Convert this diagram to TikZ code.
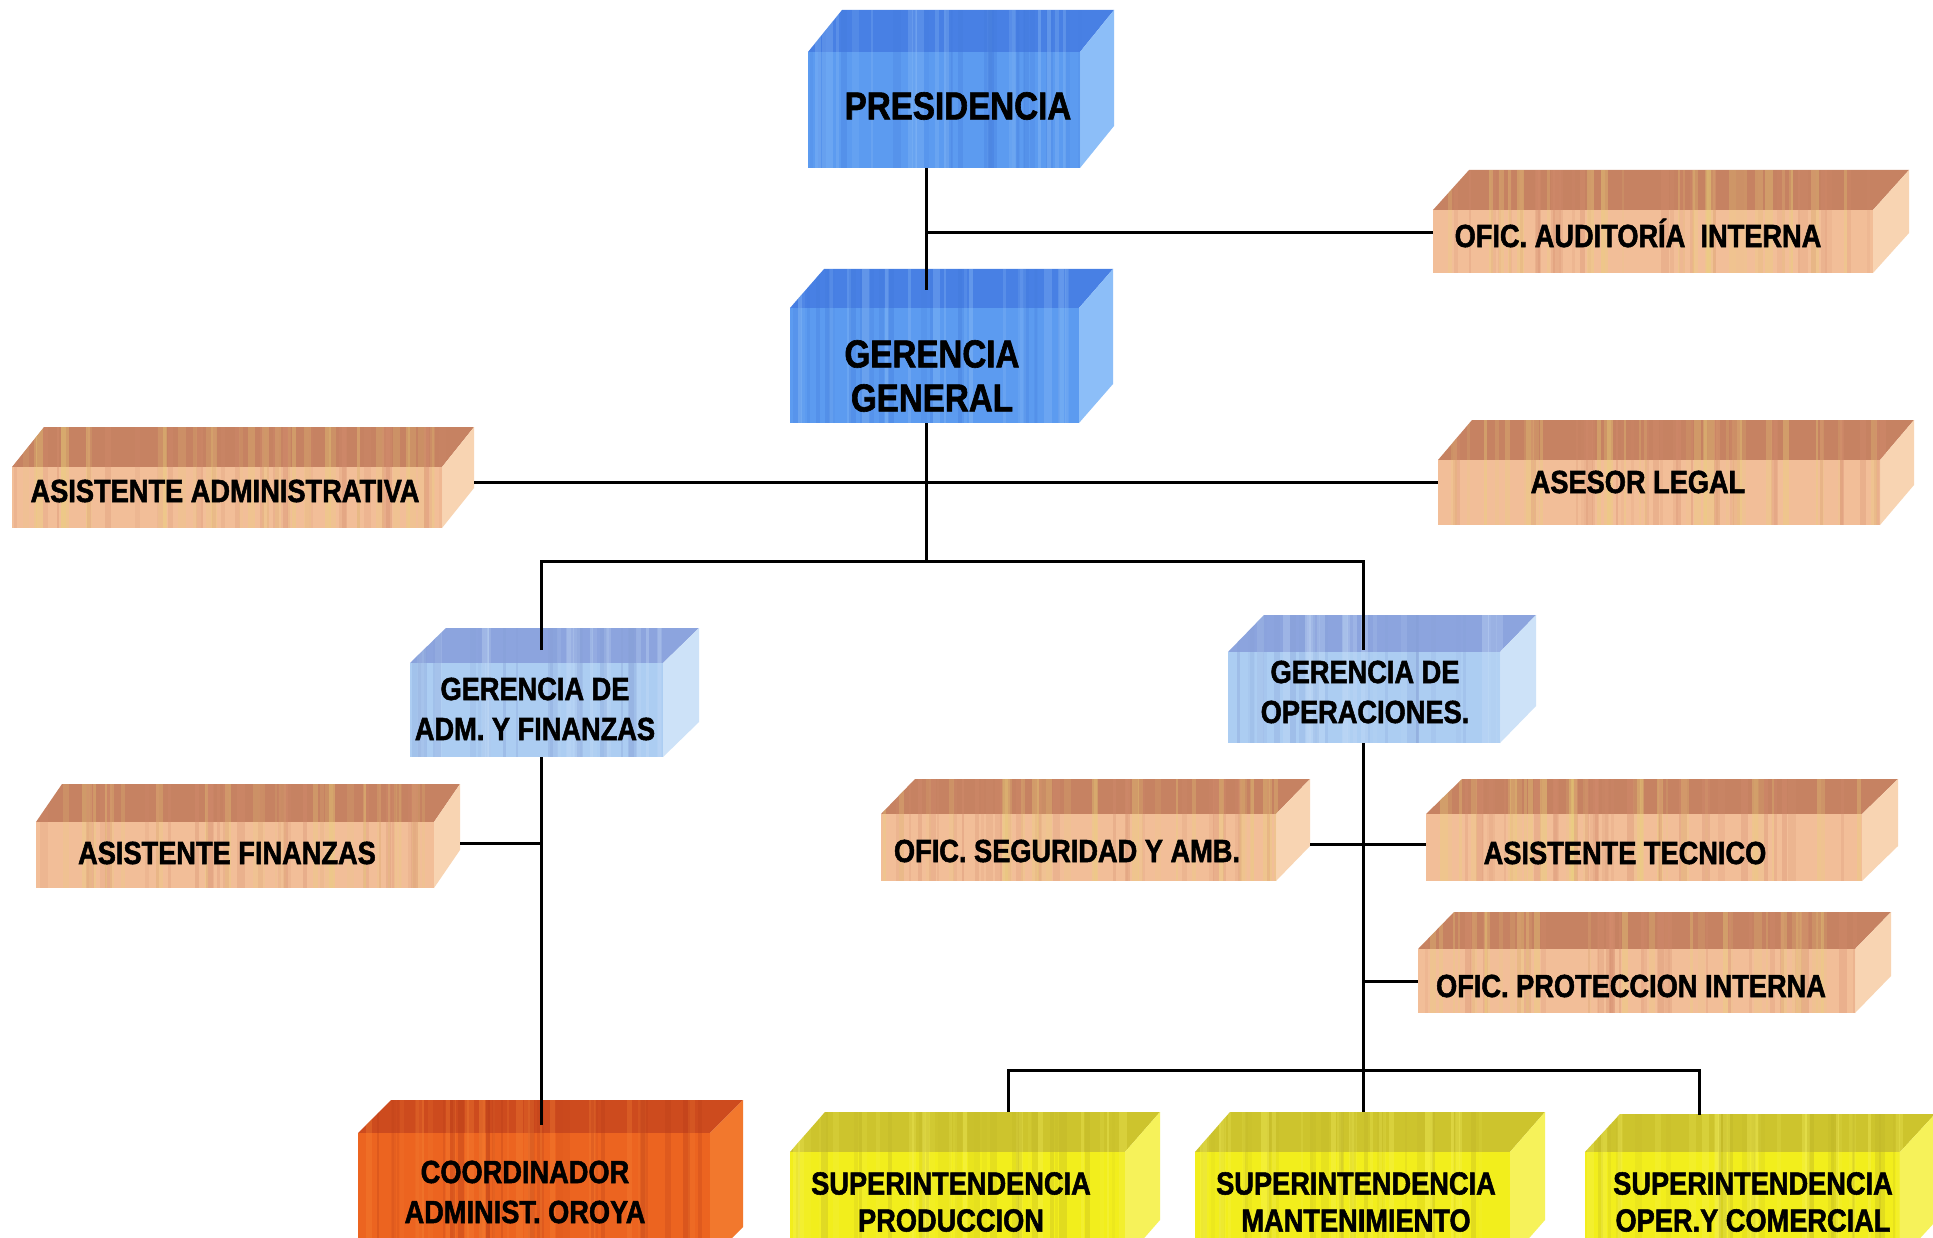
\documentclass[tikz,border=0pt]{standalone}
\usepackage{fontspec}
\setmainfont{Liberation Sans}[FakeStretch=0.85, BoldFeatures={FakeBold=1.6}]
\usetikzlibrary{calc}

% face colours: front, top, side and two streak tones per palette
\definecolor{blu-front}{RGB}{92,155,240}
\definecolor{blu-top}{RGB}{72,128,228}
\definecolor{blu-side}{RGB}{140,190,248}
\definecolor{blu-st1}{RGB}{150,196,248}
\definecolor{blu-st2}{RGB}{66,122,220}

\definecolor{lbl-front}{RGB}{172,205,242}
\definecolor{lbl-top}{RGB}{140,164,222}
\definecolor{lbl-side}{RGB}{205,226,248}
\definecolor{lbl-st1}{RGB}{200,222,248}
\definecolor{lbl-st2}{RGB}{134,160,215}

\definecolor{sal-front}{RGB}{242,190,152}
\definecolor{sal-top}{RGB}{198,130,98}
\definecolor{sal-side}{RGB}{248,212,178}
\definecolor{sal-st1}{RGB}{234,212,122}
\definecolor{sal-st2}{RGB}{214,142,112}

\definecolor{org-front}{RGB}{236,100,32}
\definecolor{org-top}{RGB}{205,75,30}
\definecolor{org-side}{RGB}{242,120,45}
\definecolor{org-st1}{RGB}{248,135,55}
\definecolor{org-st2}{RGB}{180,58,24}

\definecolor{yel-front}{RGB}{242,238,28}
\definecolor{yel-top}{RGB}{205,196,45}
\definecolor{yel-side}{RGB}{246,242,90}
\definecolor{yel-st1}{RGB}{248,244,100}
\definecolor{yel-st2}{RGB}{190,180,40}

% \cuboid{name}{left}{top}{right}{bottom}{depth x}{depth y}{palette}
% front face is the named node; top and right faces are drawn behind it
\newcommand\cuboid[8]{%
  \fill[#8-top] (#2,#3) -- ++(#6,-#7) -- ++({#4-#2},0) -- (#4,#3) -- cycle;
  \fill[#8-side] (#4,#3) -- ++(#6,-#7) -- ++(0,{#5-#3}) -- (#4,#5) -- cycle;
  \node[facebox, fill=#8-front, anchor=north west,
        minimum width={(#4-#2)*1pt}, minimum height={(#5-#3)*1pt}] (#1) at (#2,#3) {};
  \begin{scope}
    \clip (#2,#5) -- (#2,#3) -- ++(#6,-#7) -- ++({#4-#2},0) -- (#4,#3) -- (#4,#5) -- cycle;
    \pgfmathtruncatemacro\nst{(#4-#2)/7}
    \foreach \k in {1,...,\nst} {
      \pgfmathsetmacro\sx{#2+rnd*(#4-#2)}
      \pgfmathsetmacro\sw{2+6*rnd}
      \pgfmathsetmacro\sop{0.10+0.25*rnd}
      \ifodd\k \def\scol{#8-st1}\else\def\scol{#8-st2}\fi
      \fill[\scol, opacity=\sop] (\sx,{#3-#7}) rectangle ++(\sw,{#5-#3+#7});
    }
  \end{scope}
}

\begin{document}
\begin{tikzpicture}[x=1pt,y=-1pt,
  conn/.style={line width=3pt, black},
  facebox/.style={rectangle, inner sep=0pt, outer sep=0pt, draw=none},
  boxlbl/.style={font=\bfseries\fontsize{32}{40}\selectfont, align=center, inner sep=0pt, text=black},
  biglbl/.style={font=\bfseries\fontsize{39}{44}\selectfont, align=center, inner sep=0pt, text=black},
  yellbl/.style={boxlbl, font=\bfseries\fontsize{32}{37}\selectfont}]

\useasboundingbox (0,0) rectangle (1933,1238);
\clip (0,0) rectangle (1933,1238);
\fill[white] (0,0) rectangle (1933,1238);
\pgfmathsetseed{4127}

% blocks
\cuboid{pres}{808}{52}{1080}{168}{34}{42}{blu}
\cuboid{gg}{790}{308}{1079}{423}{34}{39}{blu}
\cuboid{aud}{1433}{210}{1873}{273}{36}{40}{sal}
\cuboid{asad}{12}{467}{442}{528}{32}{40}{sal}
\cuboid{legal}{1438}{460}{1880}{525}{34}{40}{sal}
\cuboid{gaf}{410}{663}{663}{757}{36}{35}{lbl}
\cuboid{gop}{1228}{652}{1500}{743}{36}{37}{lbl}
\cuboid{asfin}{36}{822}{434}{888}{26}{38}{sal}
\cuboid{seg}{881}{814}{1276}{881}{34}{35}{sal}
\cuboid{tec}{1426}{814}{1862}{881}{36}{35}{sal}
\cuboid{prot}{1418}{949}{1855}{1013}{36}{37}{sal}
\cuboid{coord}{358}{1133}{710}{1260}{33}{33}{org}
\cuboid{prod}{790}{1152}{1125}{1260}{35}{40}{yel}
\cuboid{mant}{1195}{1152}{1510}{1260}{35}{40}{yel}
\cuboid{com}{1585}{1152}{1900}{1260}{35}{38}{yel}

% labels
\node[biglbl] (pres-t) at (958,106) {PRESIDENCIA};
\node[biglbl] (gg-t) at (932,376) {GERENCIA\\GENERAL};
\node[boxlbl] (aud-t) at (1638,233) {OFIC. AUDITORÍA\ \ INTERNA};
\node[boxlbl] (asad-t) at (225,491) {ASISTENTE ADMINISTRATIVA};
\node[boxlbl] (legal-t) at (1638,482) {ASESOR LEGAL};
\node[boxlbl] (gaf-t) at (535,709) {GERENCIA DE\\ADM. Y FINANZAS};
\node[boxlbl] (gop-t) at (1365,692) {GERENCIA DE\\OPERACIONES.};
\node[boxlbl] (asfin-t) at (227,853) {ASISTENTE FINANZAS};
\node[boxlbl] (seg-t) at (1067,851) {OFIC. SEGURIDAD Y AMB.};
\node[boxlbl] (tec-t) at (1625,853) {ASISTENTE TECNICO};
\node[boxlbl] (prot-t) at (1631,986) {OFIC. PROTECCION INTERNA};
\node[boxlbl] (coord-t) at (525,1192) {COORDINADOR\\ADMINIST. OROYA};
\node[yellbl] (prod-t) at (951,1202) {SUPERINTENDENCIA\\PRODUCCION};
\node[yellbl] (mant-t) at (1356,1202) {SUPERINTENDENCIA\\MANTENIMIENTO};
\node[yellbl] (com-t) at (1753,1202) {SUPERINTENDENCIA\\OPER.Y COMERCIAL};

% connector columns and buses
\coordinate (tr1) at (926,0);
\coordinate (colL) at (541,0);
\coordinate (colR) at (1363,0);
\coordinate (colP) at (1008,0);
\coordinate (colC) at (1699,0);
\coordinate (busA) at (0,561);
\coordinate (busB) at (0,1070);

% presidency to general management, audit office
\draw[conn] (pres.south -| tr1) -- ($(gg.north -| tr1)+(0,-18)$);
\path ([yshift=9pt]aud.west) coordinate (audin);
\draw[conn] (audin -| tr1) -- (audin);

% staff line of the general management
\path ([yshift=15pt]asad.east) coordinate (asadout);
\draw[conn] ([xshift=32pt]asadout) -- (asadout -| legal.west);

% general management to both managements
\draw[conn] (gg.south -| tr1) -- (tr1 |- busA);
\draw[conn] ($(gaf.north -| colL)+(0,-13)$) -- (colL |- busA) -- (colR |- busA) -- ($(gop.north -| colR)+(0,-2)$);

% administration and finance branch
\draw[conn] (gaf.south -| colL) -- ($(coord.north -| colL)+(0,-8)$);
\path ([yshift=12pt]asfin.east) coordinate (asfinout);
\draw[conn] ([xshift=26pt]asfinout) -- (asfinout -| colL);

% operations branch
\draw[conn] (gop.south -| colR) -- ($(mant.north -| colR)+(0,-40)$);
\path ([yshift=3pt]seg.east) coordinate (segout);
\draw[conn] ([xshift=34pt]segout) -- (segout -| tec.west);
\draw[conn] (colR |- prot.west) -- (prot.west);
\draw[conn] ($(prod.north -| colP)+(0,-40)$) -- (colP |- busB) -- (colC |- busB) -- ($(com.north -| colC)+(0,-37)$);

\end{tikzpicture}
\end{document}
